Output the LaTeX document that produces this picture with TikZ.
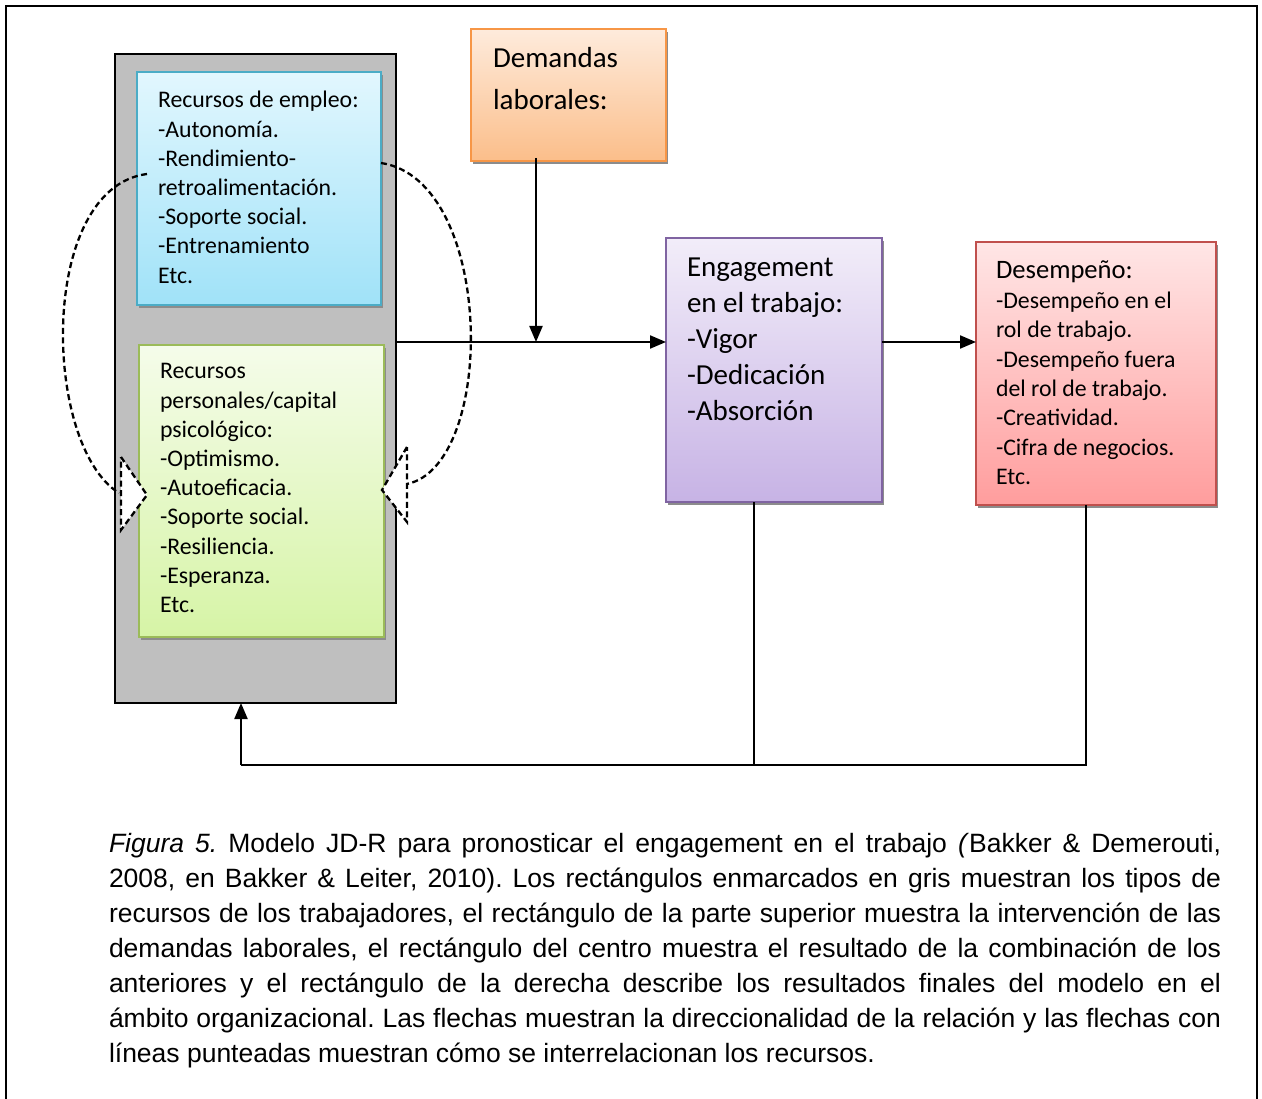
\documentclass[tikz,border=0pt]{standalone}
\usepackage{fontspec}
\setmainfont{Carlito}
\newfontfamily\capfont{Liberation Sans}
\usetikzlibrary{arrows.meta,calc}
\definecolor{grisbox}{RGB}{191,191,191}
\definecolor{bluebd}{RGB}{75,172,198}
\definecolor{bluetop}{RGB}{226,247,254}
\definecolor{bluebot}{RGB}{160,226,248}
\definecolor{greenbd}{RGB}{155,187,89}
\definecolor{greentop}{RGB}{245,252,234}
\definecolor{greenbot}{RGB}{214,244,166}
\definecolor{orangebd}{RGB}{247,150,70}
\definecolor{orangetop}{RGB}{254,235,220}
\definecolor{orangebot}{RGB}{251,190,138}
\definecolor{purplebd}{RGB}{128,100,162}
\definecolor{purpletop}{RGB}{242,237,249}
\definecolor{purplebot}{RGB}{199,179,229}
\definecolor{redbd}{RGB}{192,80,77}
\definecolor{redtop}{RGB}{255,230,230}
\definecolor{redbot}{RGB}{255,157,157}
\tikzset{
  shadowed/.style={preaction={fill=black!45,transform canvas={xshift=1.5pt,yshift=-3pt}}},
  cbox/.style={draw=#1bd, line width=1.5pt, top color=#1top, bottom color=#1bot,
    shadowed, anchor=north west, inner sep=0pt, outer sep=0pt},
  txt/.style={anchor=base west, inner sep=0pt, outer sep=0pt, align=left},
  conn/.style={line width=2.2pt, draw=black},
  arr/.style={conn, -{Triangle[length=16pt,width=13pt]}},
  dsh/.style={line width=2.3pt, dash pattern=on 6pt off 3.5pt},
}
\newcommand{\smalltxt}{\fontsize{23.8}{29.2}\selectfont}
\newcommand{\bigtxt}{\fontsize{29}{36}\selectfont}
\begin{document}
\begin{tikzpicture}[x=1pt,y=-1pt]
\useasboundingbox (0,0) rectangle (1262,1099);
% outer frame
\draw[line width=2.2pt] (6,1099) -- (6,6) -- (1257,6) -- (1257,1099);

% gray resources box
\node[draw=black, line width=2pt, fill=grisbox, anchor=north west, inner sep=0pt, outer sep=0pt,
  minimum width=281pt, minimum height=649pt] (res) at (115,54) {};

% blue box
\node[cbox=blue, minimum width=244pt, minimum height=233pt] (emp) at (137,72) {};
\node[txt] (empt) at (158,108) {\parbox[t]{220pt}{\smalltxt Recursos de empleo:\\-Autonomía.\\-Rendimiento-\\retroalimentación.\\-Soporte social.\\-Entrenamiento\\Etc.}};

% green box
\node[cbox=green, minimum width=245pt, minimum height=292pt] (pers) at (139,345) {};
\node[txt] (perst) at (160,379) {\parbox[t]{220pt}{\smalltxt Recursos\\personales/capital\\psicológico:\\-Optimismo.\\-Autoeficacia.\\-Soporte social.\\-Resiliencia.\\-Esperanza.\\Etc.}};

% orange box
\node[cbox=orange, minimum width=195pt, minimum height=132pt] (dem) at (471,29) {};
\node[txt] (demt) at (493,68) {\parbox[t]{170pt}{\fontsize{29}{42}\selectfont Demandas\\laborales:}};

% purple box
\node[cbox=purple, minimum width=216pt, minimum height=264pt] (eng) at (666,238) {};
\node[txt] (engt) at (687,277) {\parbox[t]{190pt}{\bigtxt Engagement\\en el trabajo:\\-Vigor\\-Dedicación\\-Absorción}};

% red box
\node[cbox=red, minimum width=240pt, minimum height=263pt] (des) at (976,242) {};
\node[txt] (dest) at (996,279) {\parbox[t]{215pt}{\fontsize{26.6}{29.4}\selectfont Desempeño:\\\fontsize{23.8}{29.4}\selectfont -Desempeño en el\\rol de trabajo.\\-Desempeño fuera\\del rol de trabajo.\\-Creatividad.\\-Cifra de negocios.\\Etc.}};

% connectors
\coordinate (j) at (536,342);
\draw[arr] (res.east |- j) -- (eng.west |- j);
\draw[arr] (j |- 0,158) -- (j);
\draw[arr] (eng.east |- j) -- (des.west |- j);

\coordinate (fb0) at (241,765);
\coordinate (fb1) at (754,765);
\coordinate (fb2) at (1086,765);
\draw[conn] (fb1 |- eng.south) -- (fb1);
\draw[conn] (fb2 |- des.south) -- (fb2) -- (fb0);
\draw[arr] (fb0) -- (fb0 |- res.south);

% dashed interrelation arcs
\coordinate (la0) at (147,174);
\coordinate (la1) at (119,493);
\coordinate (ra0) at (381,163);
\coordinate (ra1) at (407,484);
\draw[dsh] (la0) .. controls (38,188) and (42,445) .. (la1);
\draw[dsh, fill=white] (121,457) -- (147,495) -- (121,530) -- cycle;
\draw[dsh] (ra0) .. controls (495,180) and (497,465) .. (ra1);
\draw[dsh, fill=white] (407,447) -- (382,490) -- (407,522) -- cycle;

% caption
\node[txt] (cap) at (109,852) {\parbox[t]{1112pt}{\capfont\fontsize{26.5}{35.15}\selectfont\frenchspacing
\hbox to \hsize{\textit{Figura 5.} Modelo JD-R para pronosticar el engagement en el trabajo \textit{(}Bakker \& Demerouti,}
\hbox to \hsize{2008, en Bakker \& Leiter, 2010). Los rectángulos enmarcados en gris muestran los tipos de}
\hbox to \hsize{recursos de los trabajadores, el rectángulo de la parte superior muestra la intervención de las}
\hbox to \hsize{demandas laborales, el rectángulo del centro muestra el resultado de la combinación de los}
\hbox to \hsize{anteriores y el rectángulo de la derecha describe los resultados finales del modelo en el}
\hbox to \hsize{ámbito organizacional. Las flechas muestran la direccionalidad de la relación y las flechas con}
\hbox{líneas punteadas muestran cómo se interrelacionan los recursos.}}};
\end{tikzpicture}
\end{document}
